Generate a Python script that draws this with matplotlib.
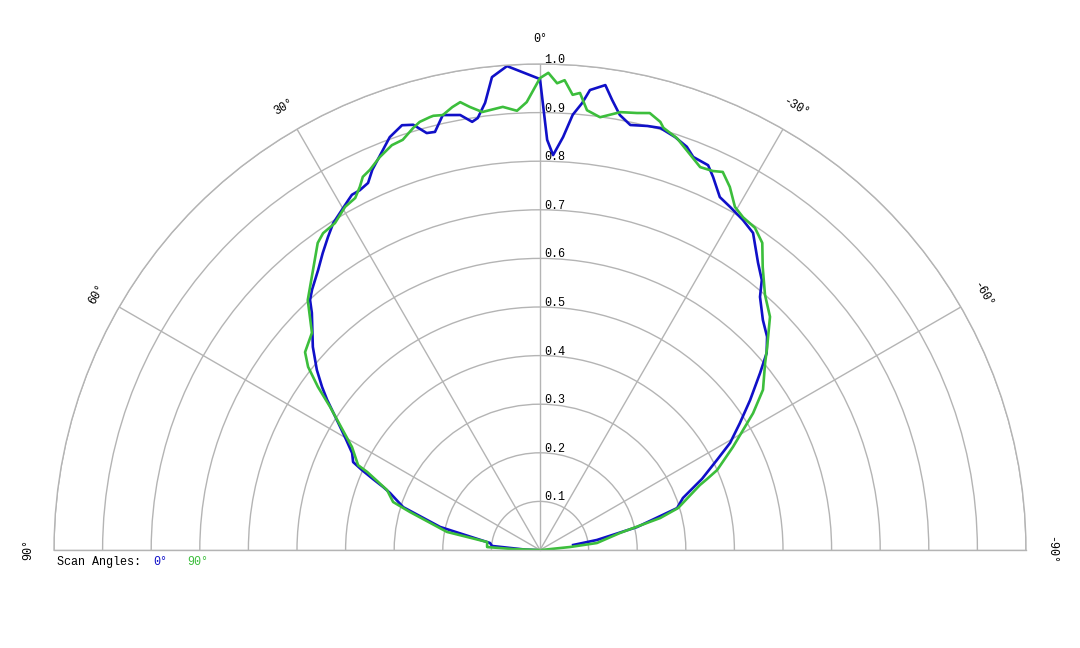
import numpy as np
import matplotlib.pyplot as plt
from matplotlib.transforms import offset_copy

# scan at 0 deg (blue) - angle in degrees, normalised intensity
theta_0 = [90, 88.5, 85.2, 82.0, 77.0, 72.6, 69.2, 68.1, 67.0, 65.8, 64.8, 62.7, 59.9,
           57.4, 54.8, 53.2, 51.1, 48.2, 43.9, 42.6, 41.2, 38.4, 36.2, 34.1, 32.3,
           30.2, 28.7, 27.9, 26.6, 25.1, 23.8, 22.0, 20.0, 18.0, 16.6, 15.2, 14.1,
           12.6, 10.4, 9.0, 8.2, 7.0, 5.8, 3.9, 0.0, -1.0, -1.9, -3.2, -4.3, -5.4,
           -6.2, -8.0, -9.1, -10.4, -12.0, -14.2, -15.9, -18.1, -20.0, -21.3, -23.6,
           -24.9, -27.0, -29.0, -31.6, -33.9, -37.2, -39.4, -41.0, -44.1, -46.8,
           -49.0, -51.2, -54.5, -57.6, -60.6, -63.0, -66.3, -70.0, -73.0, -76.7,
           -80.0, -81.4]
r_0 = [0.01, 0.03, 0.099, 0.104, 0.211, 0.295, 0.330, 0.348, 0.373, 0.402, 0.425, 0.435,
       0.464, 0.496, 0.536, 0.560, 0.590, 0.627, 0.677, 0.699, 0.712, 0.735, 0.757,
       0.778, 0.796, 0.810, 0.821, 0.827, 0.828, 0.834, 0.855, 0.877, 0.904, 0.919,
       0.913, 0.889, 0.887, 0.917, 0.910, 0.892, 0.898, 0.927, 0.978, 0.998, 0.969,
       0.844, 0.813, 0.851, 0.898, 0.924, 0.952, 0.966, 0.938, 0.910, 0.894, 0.900,
       0.903, 0.894, 0.883, 0.868, 0.864, 0.846, 0.815, 0.807, 0.797, 0.786, 0.742,
       0.719, 0.690, 0.659, 0.641, 0.618, 0.581, 0.531, 0.487, 0.449, 0.409, 0.364,
       0.313, 0.295, 0.205, 0.119, 0.069]

# scan at 90 deg (green)
theta_90 = [90, 88.0, 86.8, 81.4, 79.0, 73.7, 71.9, 68.6, 65.7, 65.0, 61.3, 58.7, 55.7,
            53.7, 51.7, 49.9, 46.4, 42.9, 39.0, 35.9, 34.4, 32.1, 29.6, 27.7, 26.4,
            25.4, 24.1, 22.2, 20.1, 18.5, 16.7, 15.7, 14.3, 13.8, 12.6, 11.2, 10.1,
            9.0, 7.5, 4.8, 3.0, 1.7, 0.0, -1.0, -2.1, -3.0, -4.1, -5.0, -6.1, -7.9,
            -10.4, -12.5, -14.1, -15.7, -16.3, -18.4, -22.7, -24.5, -25.8, -27.6,
            -29.6, -31.4, -33.7, -35.9, -38.2, -41.4, -44.6, -48.2, -50.3, -54.3,
            -57.3, -59.0, -61.9, -65.7, -67.0, -67.9, -73.1, -75.1, -78.0, -83.0,
            -84.3, -90]
r_90 = [0.003, 0.056, 0.109, 0.110, 0.195, 0.279, 0.318, 0.338, 0.390, 0.413, 0.441,
        0.475, 0.523, 0.567, 0.608, 0.632, 0.648, 0.702, 0.742, 0.780, 0.790, 0.794,
        0.812, 0.818, 0.834, 0.850, 0.857, 0.873, 0.887, 0.890, 0.907, 0.915, 0.919,
        0.920, 0.917, 0.929, 0.936, 0.923, 0.909, 0.915, 0.905, 0.922, 0.971, 0.982,
        0.961, 0.968, 0.939, 0.944, 0.910, 0.899, 0.916, 0.921, 0.927, 0.915, 0.905,
        0.893, 0.854, 0.857, 0.864, 0.843, 0.812, 0.802, 0.797, 0.780, 0.741, 0.700,
        0.674, 0.627, 0.602, 0.565, 0.521, 0.492, 0.450, 0.400, 0.373, 0.355, 0.297,
        0.256, 0.168, 0.118, 0.062, 0.003]

angle_ticks = [90, 60, 30, 0, -30, -60, -90]
r_ticks = [0.1, 0.2, 0.3, 0.4, 0.5, 0.6, 0.7, 0.8, 0.9, 1.0]

blue = '#1010c8'
green = '#3cbe3c'
grid_c = '#b4b4b4'
mono = 'Liberation Mono'

fig = plt.figure(figsize=(10.8, 6.48), dpi=100)
# polar wedge box is kept square, the half disc sits in its middle half
ax = fig.add_axes([54 / 1080, -145 / 648, 972 / 1080, 972 / 648], projection='polar')
ax.set_theta_zero_location('N')
ax.set_theta_direction(1)
ax.set_thetamin(-90)
ax.set_thetamax(90)
ax.set_rlim(0, 1)
ax.set_rticks(r_ticks)
ax.set_yticklabels([])
ax.set_thetagrids(angle_ticks, labels=[''] * len(angle_ticks))
ax.grid(color=grid_c, lw=1)
for s in ax.spines.values():
    s.set_color(grid_c)
    s.set_linewidth(1)

ax.plot(np.radians(theta_0), r_0, color=blue, lw=1.9)
ax.plot(np.radians(theta_90), r_90, color=green, lw=1.9)

# radial labels next to the 0 deg line
off = offset_copy(ax.transData, fig=fig, x=4, y=1, units='dots')
for r in r_ticks:
    ax.text(0, r, '%.1f' % r, transform=off, ha='left', va='baseline',
            fontsize=8.5, family=mono)

# angle labels around the edge
for a in angle_ticks:
    ax.text(np.radians(a), 1.052, '%d\u00b0' % a, ha='center', va='center',
            rotation=a, rotation_mode='anchor', fontsize=8.5, family=mono)

fig.text(57 / 1080, 1 - 562 / 648, 'Scan Angles:', fontsize=8.5, family=mono, va='center')
fig.text(153 / 1080, 1 - 562 / 648, '0\u00b0', fontsize=8.5, family=mono, va='center', color=blue)
fig.text(187 / 1080, 1 - 562 / 648, '90\u00b0', fontsize=8.5, family=mono, va='center', color=green)

fig.savefig('out.png', dpi=100)
